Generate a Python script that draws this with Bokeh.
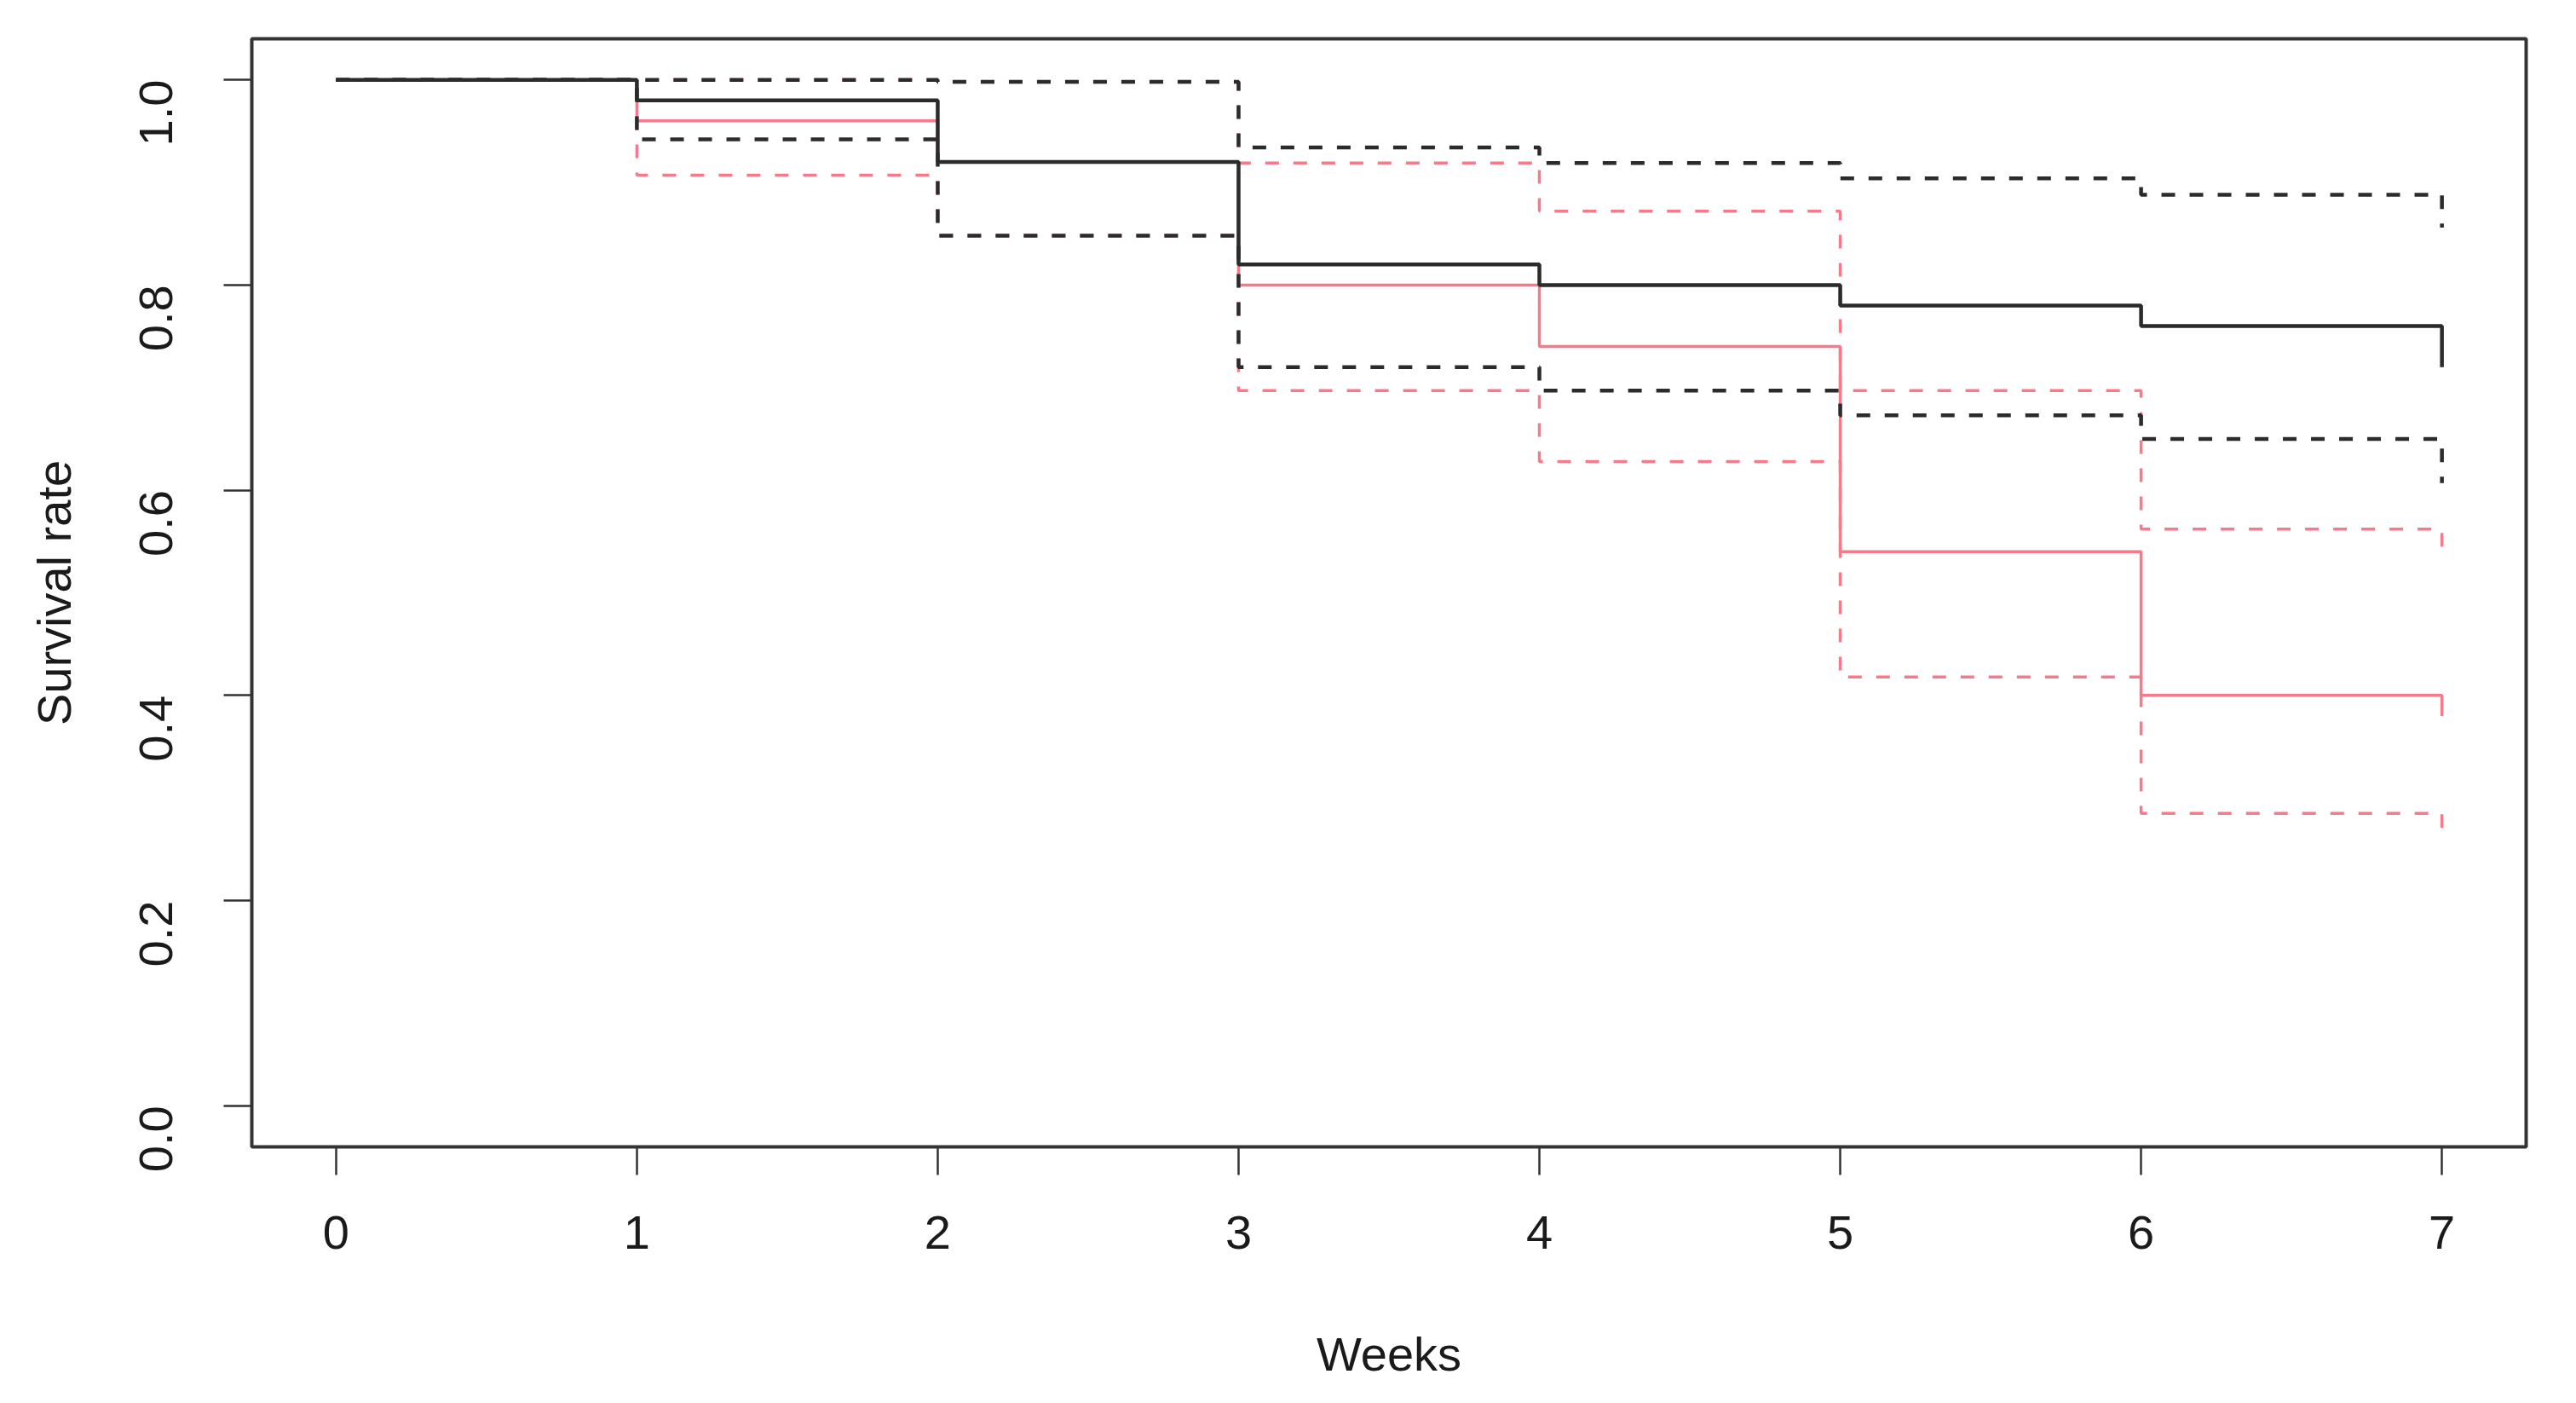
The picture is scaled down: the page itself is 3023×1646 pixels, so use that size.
import math
from bokeh.plotting import figure
from bokeh.models import Range1d, FixedTicker
from bokeh.embed import file_html
from bokeh.resources import INLINE

# ---- data ----
weeks = [0, 1, 2, 3, 4, 5, 6, 7]
surv_black = [1.0, 0.98, 0.92, 0.82, 0.80, 0.78, 0.76, 0.72]
upper_black = [1.0, 1.0, 0.998, 0.934, 0.919, 0.904, 0.888, 0.856]
lower_black = [1.0, 0.942, 0.848, 0.720, 0.697, 0.673, 0.650, 0.607]
surv_red = [1.0, 0.96, 0.92, 0.80, 0.74, 0.54, 0.40, 0.38]
upper_red = [1.0, 1.0, 0.998, 0.919, 0.872, 0.697, 0.562, 0.541]
lower_red = [1.0, 0.907, 0.848, 0.697, 0.628, 0.418, 0.285, 0.267]

x_ticks = [0, 1, 2, 3, 4, 5, 6, 7]
y_ticks = [0.0, 0.2, 0.4, 0.6, 0.8, 1.0]
y_tick_labels = {0.0: "0.0", 0.2: "0.2", 0.4: "0.4", 0.6: "0.6", 0.8: "0.8", 1.0: "1.0"}

BLACK = "#2b2b2b"
RED = "#f7798c"
FONT = "Liberation Sans"

p = figure(width=3007, height=1630, output_backend="svg", toolbar_location=None,
           x_range=Range1d(-0.28, 7.28), y_range=Range1d(-0.04, 1.04),
           min_border_left=295, min_border_right=43, min_border_top=45, min_border_bottom=285)
p.grid.visible = False
p.background_fill_color = "white"
p.border_fill_color = "white"
p.outline_line_color = "#333333"
p.outline_line_width = 4

# red group first, black on top
p.step(weeks, upper_red, mode="after", line_color=RED, line_width=3.5, line_dash="16 17")
p.step(weeks, lower_red, mode="after", line_color=RED, line_width=3.5, line_dash="16 17")
p.step(weeks, surv_red, mode="after", line_color=RED, line_width=3.5)
p.step(weeks, upper_black, mode="after", line_color=BLACK, line_width=4.5, line_dash="16 17")
p.step(weeks, lower_black, mode="after", line_color=BLACK, line_width=4.5, line_dash="16 17")
p.step(weeks, surv_black, mode="after", line_color=BLACK, line_width=4.5)

for ax in (p.xaxis[0], p.yaxis[0]):
    ax.axis_line_color = None
    ax.major_tick_line_color = "#333333"
    ax.major_tick_line_width = 2.5
    ax.major_tick_out = 33
    ax.major_tick_in = 0
    ax.minor_tick_line_color = None
    ax.major_label_text_font = FONT
    ax.major_label_text_font_size = "56px"
    ax.major_label_text_color = "#1a1a1a"
    ax.axis_label_text_font = FONT
    ax.axis_label_text_font_size = "56px"
    ax.axis_label_text_font_style = "normal"
    ax.axis_label_text_color = "#1a1a1a"

p.xaxis.ticker = FixedTicker(ticks=x_ticks)
p.yaxis.ticker = FixedTicker(ticks=y_ticks)
p.yaxis.major_label_overrides = y_tick_labels
p.xaxis.axis_label = "Weeks"
p.yaxis.axis_label = "Survival rate"
p.xaxis.major_label_standoff = 48
p.xaxis.axis_label_standoff = 89
p.yaxis.major_label_orientation = math.pi / 2
p.yaxis.major_label_standoff = 79
p.yaxis.axis_label_standoff = 48

open("out.html", "w").write(file_html(p, INLINE))
